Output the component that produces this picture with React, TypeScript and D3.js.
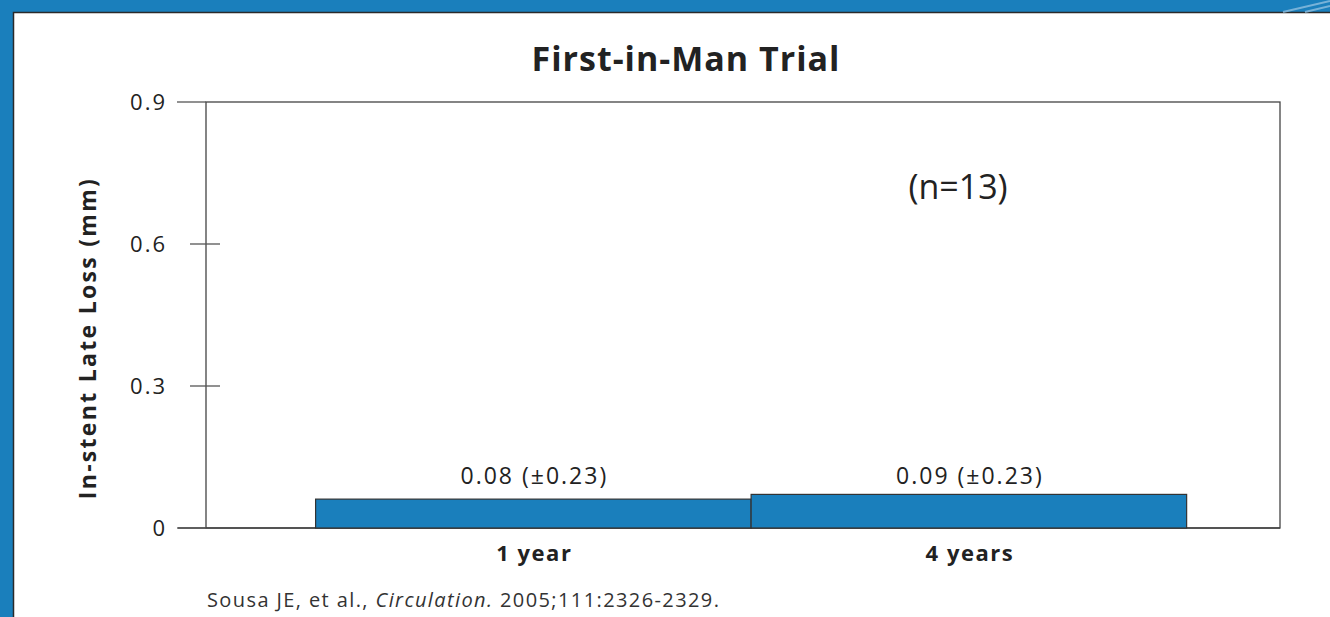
import React, { useEffect, useRef } from 'react';
import * as d3 from 'd3';

const categories = ['1 year', '4 years'];
// bar heights as drawn in the picture
const barValues = [0.061, 0.071];
const barLabels = ['0.08 (±0.23)', '0.09 (±0.23)'];
const yTicks = [0, 0.3, 0.6, 0.9];
const yTickLabels = ['0', '0.3', '0.6', '0.9'];

const W = 1330;
const H = 617;
const BLUE = '#1a7fbc';
const FONT = '"Open Sans", Lato, sans-serif';

const App: React.FC = () => {
  const svgRef = useRef<SVGSVGElement>(null);

  useEffect(() => {
    if (!svgRef.current) return;
    const svg = d3.select(svgRef.current);
    svg.selectAll('*').remove();

    const plot = { left: 206, right: 1280, top: 102, bottom: 528 };

    // frame
    svg.append('rect').attr('width', W).attr('height', H).attr('fill', BLUE);
    svg.append('rect')
      .attr('x', 13.5).attr('y', 12.5)
      .attr('width', W).attr('height', H)
      .attr('fill', '#fff')
      .attr('stroke', '#2a2a2a')
      .attr('stroke-width', 1.5);
    // light stripes top-right
    [[1283, 12, 1330, 1], [1305, 12, 1330, 6]].forEach(([x1, y1, x2, y2]) => {
      svg.append('line')
        .attr('x1', x1).attr('y1', y1).attr('x2', x2).attr('y2', y2)
        .attr('stroke', '#8fbfe0').attr('stroke-width', 2).attr('opacity', 0.8);
    });

    const y = d3.scaleLinear().domain([0, 0.9]).range([plot.bottom, plot.top]);
    const x = d3.scaleBand<string>()
      .domain(categories)
      .range([plot.left, plot.right])
      .paddingInner(0)
      .paddingOuter(0.233)
      .align(0.54);

    // title
    svg.append('text')
      .attr('x', 686).attr('y', 71)
      .attr('text-anchor', 'middle')
      .style('font-family', FONT)
      .style('font-size', '34px')
      .style('font-weight', 'bold')
      .style('letter-spacing', '1px')
      .style('fill', '#222')
      .text('First-in-Man Trial');

    // plot border
    svg.append('rect')
      .attr('x', plot.left).attr('y', plot.top)
      .attr('width', plot.right - plot.left)
      .attr('height', plot.bottom - plot.top)
      .attr('fill', 'none')
      .attr('stroke', '#444')
      .attr('stroke-width', 1.3);

    // bottom axis line extending left
    svg.append('line')
      .attr('x1', 178).attr('x2', plot.right)
      .attr('y1', plot.bottom).attr('y2', plot.bottom)
      .attr('stroke', '#444').attr('stroke-width', 1.3);

    // y ticks + labels
    yTicks.forEach((t, i) => {
      const yy = y(t);
      const outer = i === 0 || i === yTicks.length - 1;
      svg.append('line')
        .attr('x1', outer ? 177 : 190)
        .attr('x2', outer ? plot.left : plot.left + 14)
        .attr('y1', yy).attr('y2', yy)
        .attr('stroke', '#555').attr('stroke-width', 1.3);
      svg.append('text')
        .attr('x', 167).attr('y', yy)
        .attr('dy', '0.35em')
        .attr('text-anchor', 'end')
        .style('font-family', FONT)
        .style('font-size', '22px')
        .style('letter-spacing', '2px')
        .style('fill', '#222')
        .text(yTickLabels[i]);
    });

    // y axis title
    svg.append('text')
      .attr('transform', `translate(96, 338) rotate(-90)`)
      .attr('text-anchor', 'middle')
      .style('font-family', FONT)
      .style('font-size', '23px')
      .style('font-weight', 'bold')
      .style('letter-spacing', '2.3px')
      .style('fill', '#222')
      .text('In-stent Late Loss (mm)');

    // bars
    svg.selectAll('.bar')
      .data(categories)
      .enter().append('rect')
      .attr('class', 'bar')
      .attr('x', d => x(d)!)
      .attr('y', (d, i) => y(barValues[i]))
      .attr('width', x.bandwidth())
      .attr('height', (d, i) => y(0) - y(barValues[i]))
      .attr('fill', BLUE)
      .attr('stroke', '#333')
      .attr('stroke-width', 1.2);

    // value labels
    svg.selectAll('.bar-label')
      .data(categories)
      .enter().append('text')
      .attr('class', 'bar-label')
      .attr('x', d => x(d)! + x.bandwidth() / 2 + 1)
      .attr('y', y(0) - 44)
      .attr('text-anchor', 'middle')
      .style('font-family', FONT)
      .style('font-size', '23px')
      .style('letter-spacing', '2px')
      .style('fill', '#222')
      .text((d, i) => barLabels[i]);

    // category labels
    svg.selectAll('.cat-label')
      .data(categories)
      .enter().append('text')
      .attr('class', 'cat-label')
      .attr('x', d => x(d)! + x.bandwidth() / 2 + 1)
      .attr('y', 561)
      .attr('text-anchor', 'middle')
      .style('font-family', FONT)
      .style('font-size', '22px')
      .style('font-weight', 'bold')
      .style('letter-spacing', '1.5px')
      .style('fill', '#222')
      .text(d => d);

    // n annotation
    svg.append('text')
      .attr('x', 958).attr('y', 199)
      .attr('text-anchor', 'middle')
      .style('font-family', FONT)
      .style('font-size', '34px')
      .style('fill', '#222')
      .text('(n=13)');

    // citation
    const cite = svg.append('text')
      .attr('x', 207).attr('y', 607)
      .style('font-family', FONT)
      .style('font-size', '20px')
      .style('letter-spacing', '1.4px')
      .style('fill', '#333');
    cite.append('tspan').text('Sousa JE, et al., ');
    cite.append('tspan').style('font-style', 'italic').text('Circulation.');
    cite.append('tspan').text(' 2005;111:2326-2329.');
  }, []);

  return (
    <svg
      ref={svgRef}
      width={W}
      height={H}
      style={{ position: 'absolute', left: 0, top: 0, display: 'block' }}
    />
  );
};

export default App;
